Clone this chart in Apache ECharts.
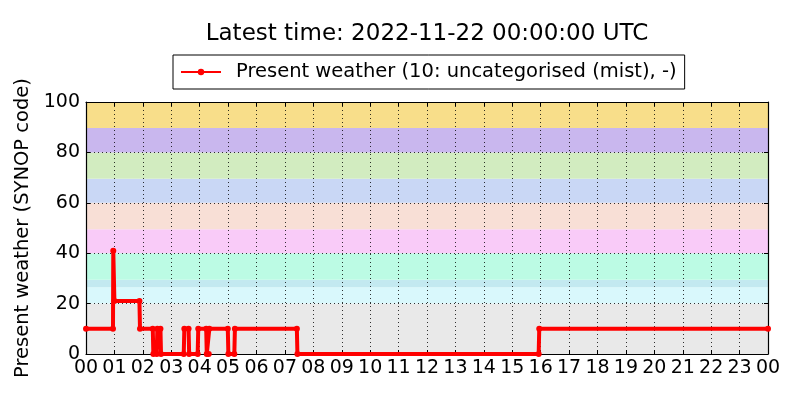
<!DOCTYPE html>
<html>
<head>
<meta charset="utf-8">
<script src="https://cdn.jsdelivr.net/npm/echarts@6/dist/echarts.min.js"></script>
<style>html,body{margin:0;padding:0;background:#fff}#c{width:800px;height:400px}</style>
</head>
<body>
<div id="c"></div>
<script>
// Hour tick labels (00..23, 00)
var hourLabels = ['00','01','02','03','04','05','06','07','08','09','10','11','12','13','14','15','16','17','18','19','20','21','22','23','00'];
// Observation times (hours since 2022-11-21 00:00 UTC) and present weather code
var obsHour = [0, 0.95, 0.96, 1.0, 1.88, 1.9, 2.35, 2.37, 2.49, 2.51, 2.62, 2.64, 3.44, 3.46, 3.61, 3.63, 3.93, 3.95, 4.23, 4.25, 4.32, 4.34, 4.99, 5.01, 5.22, 5.24, 7.42, 7.44, 15.93, 15.95, 24];
var obsCode = [10, 10, 41, 21, 21, 10, 10, 0, 0, 10, 10, 0, 0, 10, 10, 0, 0, 10, 10, 0, 0, 10, 10, 0, 0, 10, 10, 0, 0, 10, 10];
// Background code bands
var bandFrom = [0, 20, 26.5, 29.5, 40, 49.5, 60, 69.5, 80, 89.7];
var bandTo = [20, 26.5, 29.5, 40, 49.5, 60, 69.5, 80, 89.7, 100];
var bandColor = ['#e9e9e9', '#d9f8fc', '#c3e9f0', '#bcfbe4', '#f9cbf8', '#f8dfd6', '#c9d7f5', '#d2ecc0', '#c9b7ee', '#f8de8a'];
var yTicks = [0, 20, 40, 60, 80, 100];

var FONT = 'DejaVu Sans';
var chart = echarts.init(document.getElementById('c'), null, {renderer: 'canvas'});

var seriesData = obsHour.map(function (h, i) { return [h, obsCode[i]]; });
var bands = bandFrom.map(function (f, i) {
  return [{yAxis: f, itemStyle: {color: bandColor[i]}}, {yAxis: bandTo[i]}];
});

var tickStyle = {show: true, inside: true, length: 4, lineStyle: {color: '#000', width: 1}};
var axisLine = {show: true, onZero: false, lineStyle: {color: '#000', width: 1.2}};
var gridLine = {show: true, lineStyle: {color: '#000', width: 1, type: [1, 3], opacity: 0.8}};

chart.setOption({
  animation: false,
  backgroundColor: '#fff',
  textStyle: {fontFamily: FONT},
  title: {
    text: 'Latest time: 2022-11-22 00:00:00 UTC',
    left: 427, top: 23, textAlign: 'center', padding: 0,
    textStyle: {fontFamily: FONT, fontSize: 23, fontWeight: 'normal', color: '#000'}
  },
  legend: {
    left: 173, top: 55,
    padding: [7, 8, 7, 7],
    borderColor: '#000', borderWidth: 1, backgroundColor: '#fff',
    itemWidth: 40, itemHeight: 8,
    textStyle: {fontFamily: FONT, fontSize: 19.5, color: '#000', padding: [0, 0, 0, 10]},
    data: ['Present weather (10: uncategorised (mist), -)']
  },
  grid: {left: 86, top: 102, right: 32, bottom: 46, containLabel: false},
  xAxis: [{
    type: 'value', min: 0, max: 24, interval: 1, z: 10,
    axisLine: axisLine, axisTick: tickStyle, splitLine: gridLine,
    axisLabel: {fontFamily: FONT, fontSize: 19, color: '#000', margin: 5,
      formatter: function (v) { return hourLabels[Math.round(v)]; }}
  }, {
    type: 'value', min: 0, max: 24, interval: 1, position: 'top', z: 10,
    axisLine: axisLine, axisTick: tickStyle, splitLine: {show: false}, axisLabel: {show: false}
  }],
  yAxis: [{
    type: 'value', min: 0, max: 100, interval: 20, z: 10,
    name: 'Present weather (SYNOP code)', nameLocation: 'middle', nameGap: 46,
    nameTextStyle: {fontFamily: FONT, fontSize: 19.5, color: '#000'},
    axisLine: axisLine, axisTick: tickStyle, splitLine: gridLine,
    axisLabel: {fontFamily: FONT, fontSize: 19, color: '#000', margin: 6,
      formatter: function (v) { return yTicks.indexOf(v) >= 0 ? String(v) : ''; }}
  }, {
    type: 'value', min: 0, max: 100, interval: 20, position: 'right', z: 10,
    axisLine: axisLine, axisTick: tickStyle, splitLine: {show: false}, axisLabel: {show: false}
  }],
  series: [{
    type: 'line', name: '_bands', data: [], z: 1, silent: true,
    markArea: {silent: true, z: 1, data: bands, itemStyle: {opacity: 1}}
  }, {
    type: 'line', name: 'Present weather (10: uncategorised (mist), -)',
    data: seriesData, z: 20,
    symbol: 'circle', symbolSize: 6, showSymbol: true,
    lineStyle: {color: '#ff0000', width: 4},
    itemStyle: {color: '#ff0000'}
  }]
});
</script>
</body>
</html>
